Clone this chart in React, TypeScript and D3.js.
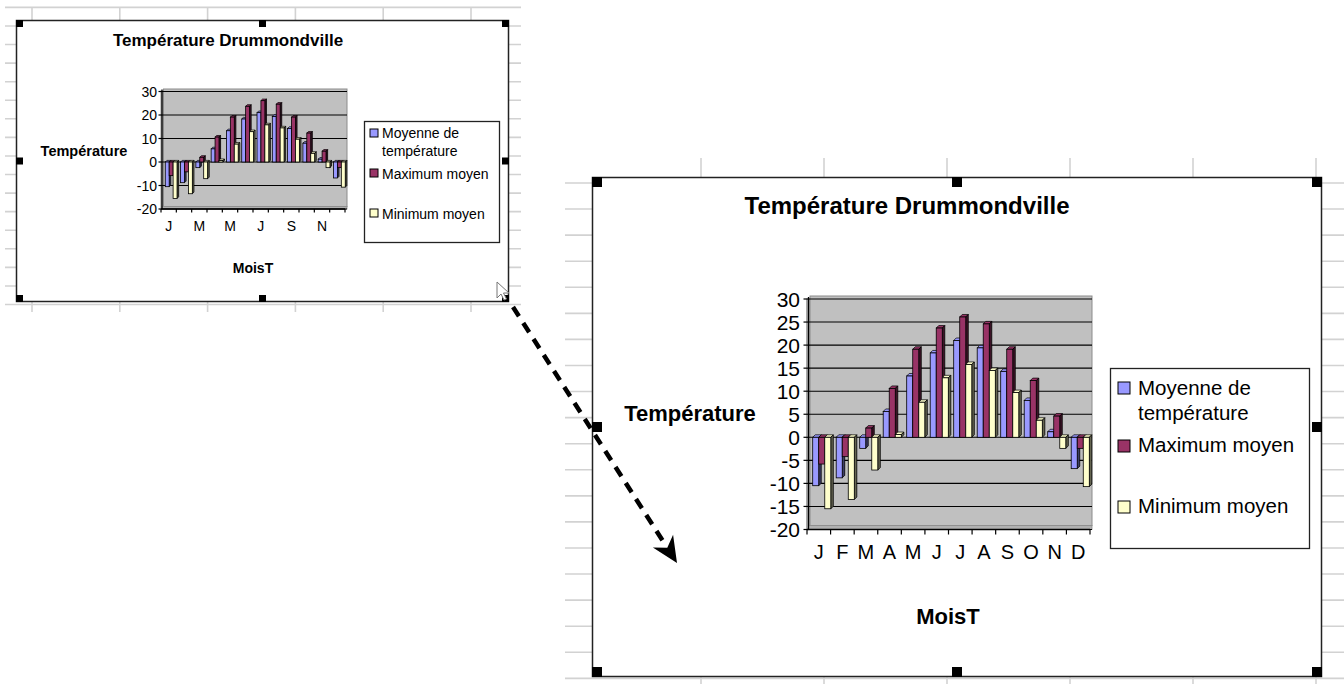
import React from 'react';
import * as d3 from 'd3';

const months = ['J', 'F', 'M', 'A', 'M', 'J', 'J', 'A', 'S', 'O', 'N', 'D'];
const smallMonthLabels = ['J', '', 'M', '', 'M', '', 'J', '', 'S', '', 'N', ''];
const moyenne = [-10.5, -8.8, -2.4, 5.6, 13.3, 18.3, 21.0, 19.4, 14.3, 8.0, 1.2, -6.8];
const maximum = [-5.8, -4.2, 2.0, 10.6, 19.1, 23.7, 26.1, 24.6, 19.1, 12.3, 4.6, -2.4];
const minimum = [-15.5, -13.5, -7.1, 0.6, 7.6, 12.9, 15.8, 14.5, 9.7, 3.7, -2.4, -10.7];
const seriesValues = [moyenne, maximum, minimum];
const seriesColors = ['#9999ff', '#993366', '#ffffcc'];
const legendLines = [['Moyenne de', 'température'], ['Maximum moyen'], ['Minimum moyen']];
const bigTicks = [-20, -15, -10, -5, 0, 5, 10, 15, 20, 25, 30];
const smallTicks = [-20, -10, 0, 10, 20, 30];
const titleText = 'Température Drummondville';
const yTitleText = 'Température';
const xTitleText = 'MoisT';

const FONT = '"Liberation Sans", Arial, Helvetica, sans-serif';

type Cfg = {
  box: [number, number, number, number];
  handle: number;
  title: { x: number; y: number; size: number };
  ytitle: { x: number; y: number; size: number };
  xtitle: { x: number; y: number; size: number };
  wallX0: number; wallX1: number; wallTop: number; floor: number;
  axisX: number; yTop: number; yBot: number;
  labelBand: [number, number]; barBand: [number, number];
  ticks: number[]; tickFont: number; tickLabelX: number; tickLen: number;
  xLabels: string[]; xLabelY: number; xFont: number;
  depth: number;
  legend: { x0: number; y0: number; x1: number; y1: number; sq: number; sqX: number; textX: number; font: number; sqY: number[]; textY: number[][] };
};

const bigCfg: Cfg = {
  box: [592.5, 177.5, 1321.5, 676.5],
  handle: 10,
  title: { x: 907, y: 214, size: 24 },
  ytitle: { x: 690, y: 421, size: 22 },
  xtitle: { x: 948, y: 624, size: 22 },
  wallX0: 810, wallX1: 1092, wallTop: 296, floor: 4,
  axisX: 808.5, yTop: 299, yBot: 529.5,
  labelBand: [807, 1090], barBand: [810, 1092],
  ticks: bigTicks, tickFont: 21, tickLabelX: 800, tickLen: 5,
  xLabels: months, xLabelY: 559, xFont: 20,
  depth: 2.5,
  legend: { x0: 1110.5, y0: 368.5, x1: 1309.5, y1: 548.5, sq: 12, sqX: 1118, textX: 1138, font: 20.5, sqY: [388, 446, 507], textY: [[395, 420], [452], [513]] },
};

const smallCfg: Cfg = {
  box: [16.5, 20.5, 508.5, 301.5],
  handle: 7,
  title: { x: 228, y: 46, size: 17 },
  ytitle: { x: 84, y: 156, size: 14.5 },
  xtitle: { x: 253, y: 273, size: 14 },
  wallX0: 163.5, wallX1: 347, wallTop: 89, floor: 2.5,
  axisX: 162, yTop: 91.5, yBot: 209,
  labelBand: [161, 345], barBand: [163.5, 347],
  ticks: smallTicks, tickFont: 14, tickLabelX: 157, tickLen: 3.5,
  xLabels: smallMonthLabels, xLabelY: 231, xFont: 14,
  depth: 1.6,
  legend: { x0: 364.5, y0: 121.5, x1: 499.5, y1: 242.5, sq: 8, sqX: 370, textX: 382, font: 14, sqY: [133, 173, 213], textY: [[138, 156], [179], [219]] },
};

function Chart({ c }: { c: Cfg }) {
  const [bx0, by0, bx1, by1] = c.box;
  const y = d3.scaleLinear().domain([-20, 30]).range([c.yBot, c.yTop]);
  const xBar = d3.scaleBand<number>().domain(d3.range(12)).range(c.barBand).paddingInner(0.23).paddingOuter(0.115);
  const inner = d3.scaleBand<number>().domain([0, 1, 2]).range([0, xBar.bandwidth()]);
  const xLab = d3.scaleBand<number>().domain(d3.range(12)).range(c.labelBand);
  const d = c.depth;
  const h = c.handle;
  const mx = (bx0 + bx1) / 2;
  const my = (by0 + by1) / 2;
  const handles: [number, number][] = [
    [bx0 - 0.5, by0 - 0.5], [mx - h / 2, by0 - 0.5], [bx1 + 0.5 - h, by0 - 0.5],
    [bx0 - 0.5, my - h / 2], [bx1 + 0.5 - h, my - h / 2],
    [bx0 - 0.5, by1 + 0.5 - h], [mx - h / 2, by1 + 0.5 - h], [bx1 + 0.5 - h, by1 + 0.5 - h],
  ];
  const y0 = y(0);
  return (
    <g>
      <rect x={bx0} y={by0} width={bx1 - bx0} height={by1 - by0} fill="#fff" stroke="#222" strokeWidth={1.5} />
      <text x={c.title.x} y={c.title.y} textAnchor="middle" fontFamily={FONT} fontWeight="bold" fontSize={c.title.size}>{titleText}</text>
      <text x={c.ytitle.x} y={c.ytitle.y} textAnchor="middle" fontFamily={FONT} fontWeight="bold" fontSize={c.ytitle.size}>{yTitleText}</text>
      <text x={c.xtitle.x} y={c.xtitle.y} textAnchor="middle" fontFamily={FONT} fontWeight="bold" fontSize={c.xtitle.size}>{xTitleText}</text>
      {/* walls */}
      <rect x={c.axisX - d} y={c.wallTop + d} width={c.wallX0 - c.axisX + d} height={c.yBot - c.wallTop - d} fill="#a9a9a9" />
      <rect x={c.wallX0} y={c.wallTop} width={c.wallX1 - c.wallX0} height={c.yBot - c.floor - c.wallTop} fill="#c0c0c0" stroke="#8c8c8c" strokeWidth={1} />
      <rect x={c.axisX} y={c.yBot - c.floor} width={c.wallX1 - c.axisX} height={c.floor} fill="#b0b0b0" stroke="#8c8c8c" strokeWidth={0.8} />
      {/* gridlines */}
      {c.ticks.map((t) => (
        <line key={'g' + t} x1={c.axisX} x2={c.wallX1} y1={y(t)} y2={y(t)} stroke="#000" strokeWidth={1.1} />
      ))}
      {/* bars */}
      {months.map((m, i) =>
        seriesValues.map((vals, s) => {
          const v = vals[i];
          const x0 = (xBar(i) as number) + (inner(s) as number);
          const w = inner.bandwidth();
          const top = Math.min(y0, y(v));
          const bot = Math.max(y0, y(v));
          const col = seriesColors[s];
          const dark = d3.color(col)!.darker(2.6).formatHex();
          const side = `M${x0 + w},${top} L${x0 + w + d},${top - d} L${x0 + w + d},${bot - d} L${x0 + w},${bot} Z`;
          const topFace = `M${x0},${top} L${x0 + d},${top - d} L${x0 + w + d},${top - d} L${x0 + w},${top} Z`;
          return (
            <g key={`b${i}-${s}`}>
              <path d={topFace} fill={col} stroke="#000" strokeWidth={0.7} />
              <path d={side} fill={dark} stroke="#000" strokeWidth={0.8} />
              <rect x={x0} y={top} width={w} height={bot - top} fill={col} stroke="#000" strokeWidth={0.8} />
            </g>
          );
        })
      )}
      {/* y axis */}
      <line x1={c.axisX} x2={c.axisX} y1={c.yTop - 2} y2={c.yBot} stroke="#000" strokeWidth={1.3} />
      {c.ticks.map((t) => (
        <g key={'t' + t}>
          <line x1={c.axisX - c.tickLen} x2={c.axisX} y1={y(t)} y2={y(t)} stroke="#000" strokeWidth={1.2} />
          <text x={c.tickLabelX} y={y(t) + c.tickFont * 0.36} textAnchor="end" fontFamily={FONT} fontSize={c.tickFont} fill="#000">{t}</text>
        </g>
      ))}
      {/* x axis */}
      <line x1={c.labelBand[0]} x2={c.labelBand[1]} y1={c.yBot} y2={c.yBot} stroke="#000" strokeWidth={1.3} />
      {d3.range(13).map((k) => {
        const xx = c.labelBand[0] + (k * (c.labelBand[1] - c.labelBand[0])) / 12;
        return <line key={'xt' + k} x1={xx} x2={xx} y1={c.yBot} y2={c.yBot + c.tickLen} stroke="#000" strokeWidth={1.2} />;
      })}
      {c.xLabels.map((l, i) => (
        <text key={'xl' + i} x={(xLab(i) as number) + xLab.bandwidth() / 2} y={c.xLabelY} textAnchor="middle" fontFamily={FONT} fontSize={c.xFont}>{l}</text>
      ))}
      {/* legend */}
      <rect x={c.legend.x0} y={c.legend.y0} width={c.legend.x1 - c.legend.x0} height={c.legend.y1 - c.legend.y0} fill="#fff" stroke="#222" strokeWidth={1.3} />
      {legendLines.map((lines, s) => (
        <g key={'lg' + s}>
          <rect x={c.legend.sqX} y={c.legend.sqY[s] - c.legend.sq / 2} width={c.legend.sq} height={c.legend.sq} fill={seriesColors[s]} stroke="#000" strokeWidth={1} />
          {lines.map((ln, j) => (
            <text key={j} x={c.legend.textX} y={c.legend.textY[s][j]} fontFamily={FONT} fontSize={c.legend.font}>{ln}</text>
          ))}
        </g>
      ))}
      {handles.map(([hx, hy], k) => (
        <rect key={'h' + k} x={hx} y={hy} width={h} height={h} fill="#000" />
      ))}
    </g>
  );
}

function SheetGrid({ x0, x1, y0, y1, hy0, hstep, vx0, vstep }: { x0: number; x1: number; y0: number; y1: number; hy0: number; hstep: number; vx0: number; vstep: number }) {
  const hs: number[] = [];
  for (let v = hy0; v <= y1; v += hstep) hs.push(v);
  const vs: number[] = [];
  for (let v = vx0; v <= x1; v += vstep) vs.push(v);
  return (
    <g stroke="#d2d2d2" strokeWidth={1.6}>
      {hs.map((v, i) => <line key={'h' + i} x1={x0} x2={x1} y1={v} y2={v} />)}
      {vs.map((v, i) => <line key={'v' + i} x1={v} x2={v} y1={y0} y2={y1} />)}
    </g>
  );
}

export default function App() {
  const sx = 513, sy = 307, tx = 677, ty = 563;
  const len = Math.hypot(tx - sx, ty - sy);
  const ux = (tx - sx) / len, uy = (ty - sy) / len;
  const px = -uy, py = ux;
  const headL = 26, headW = 12, notch = 8;
  const bxp = tx - ux * headL, byp = ty - uy * headL;
  const head = `M${tx},${ty} L${bxp + px * headW},${byp + py * headW} L${tx - ux * (headL - notch)},${ty - uy * (headL - notch)} L${bxp - px * headW},${byp - py * headW} Z`;
  const lineEndX = tx - ux * (headL - notch + 2), lineEndY = ty - uy * (headL - notch + 2);
  return (
    <svg width={1344} height={684} viewBox="0 0 1344 684" style={{ position: 'absolute', left: 0, top: 0, display: 'block', background: '#fff' }}>
      <rect x={0} y={0} width={1344} height={684} fill="#fff" />
      <SheetGrid x0={5} x1={521} y0={7} y1={312} hy0={7.4} hstep={18.57} vx0={32} vstep={87.8} />
      <SheetGrid x0={565} x1={1344} y0={158} y1={684} hy0={183} hstep={26.07} vx0={701} vstep={123} />
      <Chart c={smallCfg} />
      <Chart c={bigCfg} />
      <path d="M497,282 L497,298 L501,294 L504,300 L506.5,299 L503.5,293 L509,293 Z" fill="#fff" stroke="#777" strokeWidth={1} />
      <line x1={sx} y1={sy} x2={lineEndX} y2={lineEndY} stroke="#000" strokeWidth={4.5} strokeDasharray="11 8" />
      <path d={head} fill="#000" />
    </svg>
  );
}
